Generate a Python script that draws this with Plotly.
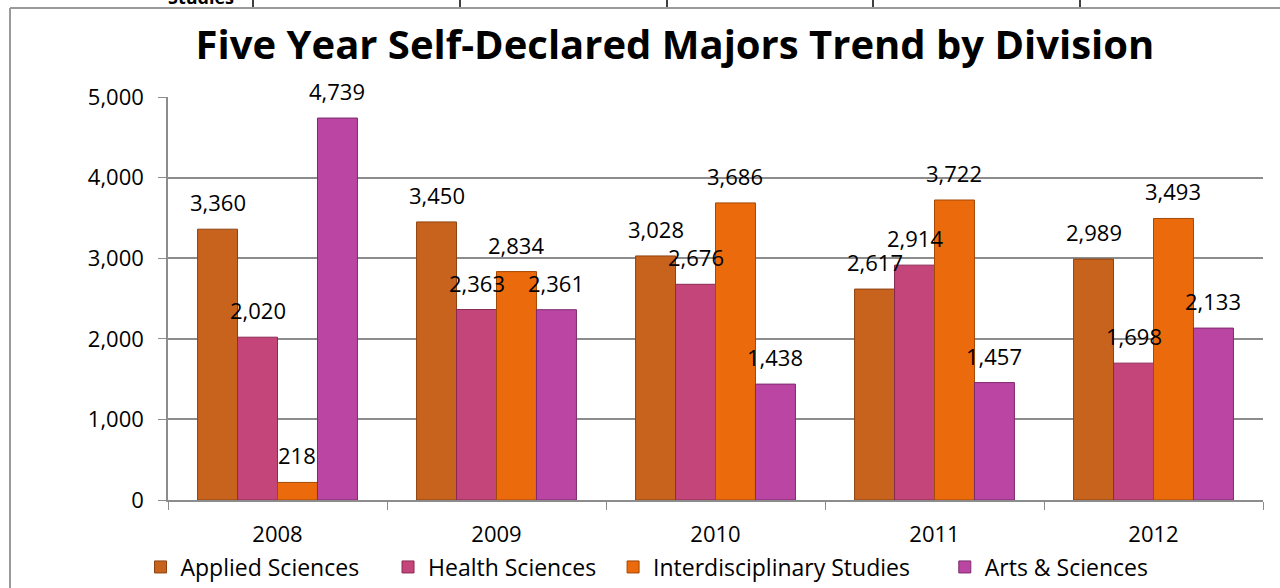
import plotly.graph_objects as go

years = ["2008", "2009", "2010", "2011", "2012"]
applied = [3360, 3450, 3028, 2617, 2989]
health = [2020, 2363, 2676, 2914, 1698]
interdisc = [218, 2834, 3686, 3722, 3493]
arts = [4739, 2361, 1438, 1457, 2133]

series = [
    ("Applied Sciences", applied, "#C8631D", "#8E4210", 4),
    ("Health Sciences", health, "#C4457A", "#8A2A52", 2),
    ("Interdisciplinary Studies", interdisc, "#EA6A0C", "#A44806", 5),
    ("Arts & Sciences", arts, "#BB45A3", "#7E2A6E", 0),
]

W, H = 1280, 588
L, R, T, B = 168, 17, 97, 88
FONT = "Open Sans, Liberation Sans"
BARGAP = 0.27

fig = go.Figure()
for name, vals, col, edge, pad in series:
    fig.add_trace(go.Bar(
        name=name + "\u00a0" * pad, x=years, y=vals,
        marker=dict(color=col, line=dict(color=edge, width=1)),
        hoverinfo="skip",
    ))

def px_x(p):
    return (p - L) / (W - L - R)

def px_y(p):
    return 1 - (p - T) / (H - T - B)

# data labels anchored to each bar (category on x, value on y)
cat_px = (W - L - R) / len(years)
bar_px = cat_px * (1 - BARGAP) / len(series)
annotations = []
for i, (name, vals, col, edge, pad) in enumerate(series):
    shift = (i - (len(series) - 1) / 2) * bar_px
    for j, v in enumerate(vals):
        annotations.append(dict(
            x=j, y=v, xref="x", yref="y", text=f"{v:,}", showarrow=False,
            xshift=shift, yshift=27, yanchor="middle", xanchor="center",
            font=dict(family=FONT, size=22, color="black")))

annotations.append(dict(text="<b>Studies</b>", xref="paper", yref="paper", x=px_x(236), xanchor="right",
                        y=px_y(-3), yanchor="middle", showarrow=False,
                        font=dict(size=18, color="black")))

shapes = [
    dict(type="line", xref="paper", yref="paper", x0=px_x(10), x1=px_x(1285), y0=px_y(8), y1=px_y(8),
         line=dict(color="#9a9a9a", width=2)),
    dict(type="line", xref="paper", yref="paper", x0=px_x(10), x1=px_x(10), y0=px_y(8), y1=px_y(600),
         line=dict(color="#9a9a9a", width=2)),
]
for xp in [253, 460, 667, 873, 1080]:
    shapes.append(dict(type="line", xref="paper", yref="paper", x0=px_x(xp), x1=px_x(xp),
                       y0=px_y(-5), y1=px_y(7), line=dict(color="black", width=1.5)))

fig.update_layout(
    width=W, height=H,
    margin=dict(l=L, r=R, t=T, b=B, autoexpand=False),
    paper_bgcolor="white", plot_bgcolor="white",
    barmode="group", bargap=BARGAP, bargroupgap=0,
    title=dict(text="<b>Five Year Self-Declared Majors Trend by Division</b>",
               x=px_x(675), xref="paper", xanchor="center",
               y=1 - 45 / H, yanchor="middle",
               font=dict(family="Open Sans, Lato", size=40, color="black")),
    font=dict(family=FONT, size=22, color="black"),
    xaxis=dict(type="category", showline=True, linecolor="#8c8c8c", linewidth=1.5,
               ticks="outside", ticklen=8, tickcolor="#8c8c8c",
               tickson="boundaries", tickfont=dict(size=22), ticklabelstandoff=14),
    yaxis=dict(range=[0, 5000], dtick=1000, tickformat=",", showline=True,
               linecolor="#8c8c8c", linewidth=1.5, ticks="outside", ticklen=8,
               tickcolor="#8c8c8c", gridcolor="#8c8c8c", gridwidth=1.5,
               zeroline=False, tickfont=dict(size=22), ticklabelstandoff=10),
    legend=dict(orientation="h", x=px_x(647), xanchor="center", y=px_y(567), yanchor="middle",
                font=dict(size=23), itemwidth=30, tracegroupgap=0),
    shapes=shapes,
    annotations=annotations,
)

fig.write_html("out.html", config={"displayModeBar": False},
               post_script="document.body.style.margin='0';document.body.style.overflow='hidden';")
